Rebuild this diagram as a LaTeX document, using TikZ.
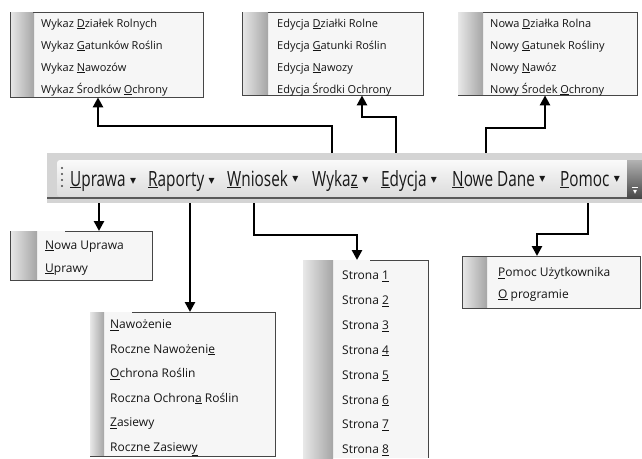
\documentclass[tikz,border=0pt]{standalone}
\usepackage{fontspec}
\setmainfont{Open Sans}
\newfontfamily\tbfont[FakeStretch=0.73]{Open Sans}
\newfontfamily\symfont{DejaVu Sans}
\usetikzlibrary{arrows.meta,positioning}

\definecolor{menufill}{RGB}{246,246,246}
\definecolor{menuedge}{RGB}{70,70,70}
\definecolor{barfill}{RGB}{212,212,212}
\definecolor{stripL}{RGB}{232,232,232}
\definecolor{stripR}{RGB}{165,165,165}
\newcommand{\ak}[1]{\underline{#1}}
\newcommand{\dd}{{\symfont\fontsize{8}{8}\selectfont ▾}}
\newcommand{\tbdd}{{\symfont\fontsize{12}{12}\selectfont ▾}}

\tikzset{
  conn/.style={line width=2.6pt, -{Triangle[length=10pt,width=10pt]}},
  menubox/.style={fill=menufill, inner sep=0pt, anchor=north west},
  edge/.style={draw=menuedge, line width=0.8pt},
  item/.style={anchor=base west, inner sep=0pt, text=black!92, font=\fontsize{12}{14}\selectfont},
  smallitem/.style={item, font=\fontsize{11}{13}\selectfont},
  tbitem/.style={anchor=base west, inner sep=0pt, text=black!90, font=\tbfont\fontsize{21}{24}\selectfont},
  tbarrow/.style={inner sep=0pt, text=black!90}
}

\begin{document}
\begin{tikzpicture}[x=1pt, y=-1pt]
  \useasboundingbox (0,0) rectangle (642,458);

  % Toolbar
  \fill[barfill] (47,153) rectangle (642,203);
  \shade[top color=white!96!gray, bottom color=gray!28, rounded corners=3pt] (57,160) rectangle (630,197);
  \fill[black!65] (47,196.5) rectangle (627,198.5);
  \shade[top color=gray!60, bottom color=black!72] (627,160) rectangle (642,198);
  \draw[white, line width=0.8pt] (632,187) -- (638,187);
  \node[tbarrow, text=white] (chev) at (635,192) {\dd};
  \foreach \d in {168,174,180,186}
    \fill[gray!55!black] (62,\d) circle (1.1pt);

  \node[tbitem] (tUprawa) at (70,186) {\ak{U}prawa};
  \node[tbarrow, right=4pt of tUprawa] {\tbdd};
  \node[tbitem] (tRaporty) at (148,186) {\ak{R}aporty};
  \node[tbarrow, right=4pt of tRaporty] {\tbdd};
  \node[tbitem] (tWniosek) at (227,186) {\ak{W}niosek};
  \node[tbarrow, right=4pt of tWniosek] {\tbdd};
  \node[tbitem] (tWykaz) at (312,186) {Wyka\ak{z}};
  \node[tbarrow, right=4pt of tWykaz] {\tbdd};
  \node[tbitem] (tEdycja) at (381,186) {\ak{E}dycja};
  \node[tbarrow, right=4pt of tEdycja] {\tbdd};
  \node[tbitem] (tNowe) at (452,186) {\ak{N}owe Dane};
  \node[tbarrow, right=4pt of tNowe] {\tbdd};
  \node[tbitem] (tPomoc) at (560,186) {\ak{P}omoc};
  \node[tbarrow, right=4pt of tPomoc] {\tbdd};

  % Menu: Wykaz
  \node[menubox, minimum width=193pt, minimum height=85pt] (mWykaz) at (10,12) {};
  \shade[left color=stripL, right color=stripR] (mWykaz.north west) rectangle ([xshift=24pt]mWykaz.south west);
  \draw[edge] ([xshift=23pt]mWykaz.north west) -| (mWykaz.south east) -| (mWykaz.north west);
  \foreach \t [count=\i] in {Wykaz \ak{D}ziałek Rolnych, Wykaz \ak{G}atunków Roślin, Wykaz \ak{N}awozów, Wykaz Środków \ak{O}chrony}
    \node[smallitem] at (41,{5+22*\i}) {\t};

  % Menu: Edycja
  \node[menubox, minimum width=181pt, minimum height=83pt] (mEdycja) at (242,12) {};
  \shade[left color=stripL, right color=stripR] (mEdycja.north west) rectangle ([xshift=26pt]mEdycja.south west);
  \draw[edge] ([xshift=26pt]mEdycja.north west) -| (mEdycja.south east) -| (mEdycja.north west);
  \foreach \t [count=\i] in {Edycja \ak{D}ziałki Rolne, Edycja \ak{G}atunki Roślin, Edycja \ak{N}awozy, Edycja Środki Ochrony}
    \node[smallitem] at (277,{5+22*\i}) {\t};

  % Menu: Nowe Dane
  \node[menubox, minimum width=179pt, minimum height=83pt] (mNowe) at (458,12) {};
  \shade[left color=stripL, right color=stripR] (mNowe.north west) rectangle ([xshift=25pt]mNowe.south west);
  \draw[edge] ([xshift=25pt]mNowe.north west) -| (mNowe.south east) -- (mNowe.south west);
  \foreach \t [count=\i] in {Nowa \ak{D}ziałka Rolna, Nowy \ak{G}atunek Rośliny, Nowy \ak{N}awóz, Nowy Środek \ak{O}chrony}
    \node[smallitem] at (490,{5+22*\i}) {\t};

  % Menu: Uprawa
  \node[menubox, minimum width=142pt, minimum height=49pt] (mUprawa) at (10,231) {};
  \shade[left color=stripL, right color=stripR] (mUprawa.north west) rectangle ([xshift=27pt]mUprawa.south west);
  \draw[edge] ([xshift=55pt]mUprawa.north west) -| (mUprawa.south east) -| (mUprawa.north west);
  \foreach \t [count=\i] in {\ak{N}owa Uprawa, \ak{U}prawy}
    \node[item] at (45,{226+23*\i}) {\t};

  % Menu: Raporty
  \node[menubox, minimum width=185pt, minimum height=144pt] (mRaporty) at (90,312) {};
  \shade[left color=stripL, right color=stripR] (mRaporty.north west) rectangle ([xshift=14pt]mRaporty.south west);
  \draw[edge] ([xshift=42pt]mRaporty.north west) -| (mRaporty.south east) -- (mRaporty.south west);
  \foreach \t [count=\i] in {\ak{N}awożenie, Roczne Nawożeni\ak{e}, \ak{O}chrona Roślin, Roczna Ochron\ak{a} Roślin, \ak{Z}asiewy, Roczne Zasiew\ak{y}}
    \node[item] at (110,{304+24.5*\i}) {\t};

  % Menu: Wniosek
  \node[menubox, minimum width=125pt, minimum height=198pt] (mStrona) at (303,260) {};
  \shade[left color=stripL, right color=stripR] (mStrona.north west) rectangle ([xshift=30pt]mStrona.south west);
  \draw[edge] ([xshift=67pt]mStrona.north west) -| (mStrona.south east);
  \foreach \n in {1,...,8}
    \node[item] at (342,{254.6+24.9*\n}) {Strona \ak{\n}};

  % Menu: Pomoc
  \node[menubox, minimum width=178pt, minimum height=52pt] (mPomoc) at (462,256) {};
  \shade[left color=stripL, right color=stripR] (mPomoc.north west) rectangle ([xshift=25pt]mPomoc.south west);
  \draw[edge] (mPomoc.north west) -| (mPomoc.south east) -| (mPomoc.north west);
  \foreach \t [count=\i] in {\ak{P}omoc Użytkownika, \ak{O} programie}
    \node[item] at (498,{255+21.5*\i}) {\t};

  % Connectors
  \coordinate (cWykaz) at (332,153);
  \coordinate (cEdycja) at (396,153);
  \coordinate (cNowe) at (486,153);
  \coordinate (cUprawa) at (99,203);
  \coordinate (cRaporty) at (190,203);
  \coordinate (cWniosek) at (254,203);
  \coordinate (cPomoc) at (588,203);

  \draw[conn] (cWykaz) -- ++(0,-27) -| ([xshift=88pt]mWykaz.south west);
  \draw[conn] (cEdycja) -- ++(0,-36) -| ([xshift=120pt]mEdycja.south west);
  \draw[conn] (cNowe) -- ++(0,-25) -| ([xshift=87pt]mNowe.south west);
  \draw[conn] (cUprawa) -- ([xshift=89pt]mUprawa.north west);
  \draw[conn] (cRaporty) -- ([xshift=100pt]mRaporty.north west);
  \draw[conn] (cWniosek) -- ++(0,32) -| ([xshift=54pt]mStrona.north west);
  \draw[conn] (cPomoc) -- ++(0,31) -| ([xshift=75pt]mPomoc.north west);
\end{tikzpicture}
\end{document}
